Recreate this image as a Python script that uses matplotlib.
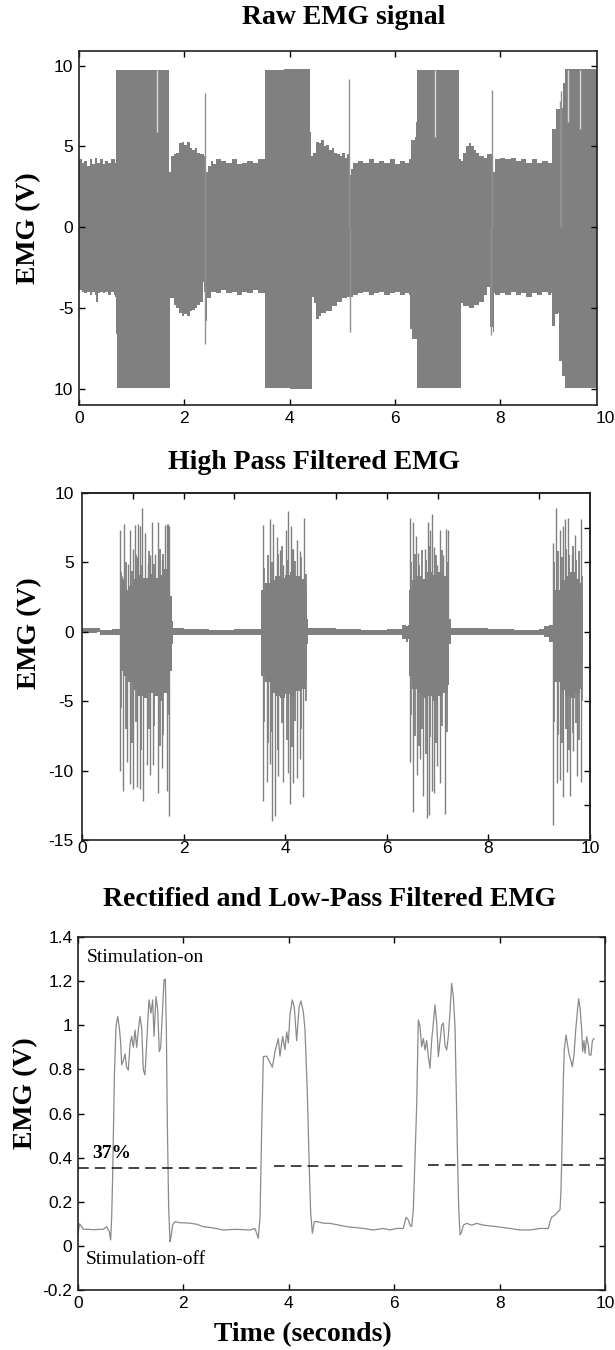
import numpy as np
import matplotlib
matplotlib.use('Agg')
import matplotlib.pyplot as plt

plt.rcParams['font.family'] = ['Liberation Sans', 'DejaVu Sans']
plt.rcParams['axes.unicode_minus'] = False

# ---- Raw EMG: envelope of the signal, (time, volts) ----
raw_upper = [(0.0, 4.2), (0.05, 4.0), (0.1, 4.1), (0.15, 3.8), (0.2, 4.2), (0.25, 3.9), (0.3, 4.3),
             (0.35, 4.0), (0.4, 4.2), (0.45, 3.9), (0.5, 4.1), (0.55, 4.0), (0.6, 4.2), (0.68, 4.0),
             (0.69, 4.0), (0.70, 9.72), (1.0, 9.7), (1.3, 9.75), (1.70, 9.72), (1.705, 3.4), (1.73, 3.4),
             (1.75, 4.4), (1.8, 4.5), (1.85, 4.6), (1.9, 5.2), (1.95, 5.3), (2.0, 5.1), (2.05, 5.3),
             (2.1, 4.9), (2.15, 4.8), (2.2, 4.9), (2.25, 4.6), (2.3, 4.5), (2.38, 4.4), (2.40, 2.4),
             (2.42, 3.4), (2.45, 3.8), (2.5, 4.1), (2.55, 3.9), (2.6, 4.2), (2.7, 4.1), (2.8, 4.0),
             (2.9, 4.2), (3.0, 3.9), (3.1, 4.0), (3.2, 4.1), (3.3, 4.0), (3.4, 4.2), (3.52, 4.2),
             (3.53, 9.72), (3.9, 9.8), (4.38, 9.72), (4.385, 5.9), (4.40, 5.0), (4.41, 4.4), (4.45, 4.6),
             (4.5, 5.3), (4.55, 5.2), (4.6, 5.4), (4.65, 5.0), (4.7, 5.1), (4.75, 4.8), (4.8, 4.9),
             (4.85, 4.6), (4.9, 4.5), (4.95, 4.4), (5.0, 4.6), (5.05, 4.3), (5.1, 4.5), (5.13, 5.0),
             (5.15, 3.2), (5.17, 3.6), (5.2, 4.0), (5.3, 4.1), (5.4, 4.0), (5.5, 4.2), (5.6, 4.0),
             (5.7, 4.1), (5.8, 4.0), (5.9, 4.2), (6.0, 3.9), (6.1, 4.1), (6.2, 4.0), (6.27, 4.2),
             (6.3, 5.4), (6.38, 5.6), (6.40, 6.5), (6.42, 9.75), (7.20, 9.72), (7.21, 4.2), (7.25, 4.1),
             (7.3, 4.6), (7.35, 5.0), (7.4, 5.2), (7.45, 5.0), (7.5, 4.8), (7.55, 4.6), (7.6, 4.4),
             (7.7, 4.3), (7.75, 4.5), (7.84, 4.5), (7.87, 3.4), (7.9, 4.2), (8.0, 4.3), (8.1, 4.2),
             (8.2, 4.3), (8.3, 4.1), (8.4, 4.2), (8.5, 4.0), (8.6, 4.2), (8.7, 4.0), (8.8, 4.1),
             (8.9, 4.0), (8.98, 4.0), (8.99, 6.1), (9.06, 6.1), (9.07, 7.3), (9.18, 7.4), (9.2, 8.9),
             (9.23, 9.8), (9.83, 9.72), (9.835, 5.0)]
raw_lower = [(0.0, -3.9), (0.05, -4.0), (0.1, -4.1), (0.15, -4.0), (0.2, -4.2), (0.25, -4.0), (0.3, -4.2),
             (0.33, -4.6), (0.36, -4.1), (0.4, -4.0), (0.45, -4.1), (0.5, -4.0), (0.55, -4.2), (0.6, -4.0),
             (0.66, -4.2), (0.69, -4.3), (0.695, -6.6), (0.72, -6.6), (0.73, -9.95), (1.0, -9.97),
             (1.3, -9.93), (1.72, -9.95), (1.73, -4.4), (1.8, -4.8), (1.85, -5.0), (1.9, -5.3),
             (1.95, -5.5), (2.0, -5.4), (2.05, -5.5), (2.1, -5.2), (2.15, -5.1), (2.2, -5.0), (2.25, -4.8),
             (2.3, -4.6), (2.35, -4.4), (2.36, -3.4), (2.37, -4.0), (2.40, -5.9), (2.42, -5.8),
             (2.44, -4.4), (2.5, -4.0), (2.6, -4.1), (2.7, -3.9), (2.8, -4.1), (2.9, -4.0), (3.0, -4.2),
             (3.1, -4.0), (3.2, -4.1), (3.3, -3.9), (3.4, -4.1), (3.52, -4.1), (3.53, -9.95),
             (4.0, -9.98), (4.42, -9.95), (4.43, -4.3), (4.47, -4.7), (4.5, -5.7), (4.55, -5.5),
             (4.6, -5.3), (4.7, -5.2), (4.8, -4.9), (4.9, -4.6), (5.0, -4.4), (5.1, -4.3), (5.16, -4.3),
             (5.2, -4.2), (5.3, -4.1), (5.4, -4.0), (5.5, -4.2), (5.6, -4.1), (5.7, -4.0), (5.8, -4.2),
             (5.9, -4.1), (6.0, -4.0), (6.1, -4.2), (6.2, -4.1), (6.27, -4.2), (6.28, -6.3), (6.33, -6.9),
             (6.41, -6.9), (6.42, -9.96), (7.23, -9.96), (7.25, -4.7), (7.3, -4.9), (7.4, -5.0),
             (7.5, -4.8), (7.6, -4.6), (7.7, -4.2), (7.75, -3.7), (7.8, -6.2), (7.86, -6.5), (7.88, -4.1),
             (7.9, -4.2), (8.0, -4.1), (8.1, -4.2), (8.2, -4.0), (8.3, -4.2), (8.4, -4.1), (8.5, -4.3),
             (8.6, -4.1), (8.7, -4.2), (8.8, -4.0), (8.9, -4.2), (8.97, -4.1), (8.99, -6.1), (9.05, -5.4),
             (9.1, -5.3), (9.12, -8.3), (9.18, -9.2), (9.22, -9.2), (9.23, -9.96), (9.83, -9.96),
             (9.835, -5.0)]
raw_spikes = [(2.39, 8.3), (5.12, 9.15), (7.84, 8.5), (9.14, 7.8), (9.16, 8.4),
              (2.385, -7.2), (5.14, -6.5), (7.82, -6.7)]
raw_notches = [(1.48, 5.9), (6.76, 5.6), (9.29, 6.5), (9.52, 6.1)]

# ---- High pass filtered EMG: (time, upper, lower) core band plus spikes ----
hp_band = [(0.0, 0.3, -0.1), (0.3, 0.3, -0.05), (0.35, 0.15, -0.25), (0.5, 0.15, -0.25), (0.6, 0.2, -0.2),
           (0.73, 0.2, -0.2), (0.745, 2.6, -2.8), (0.8, 3.0, -3.2), (0.9, 3.3, -3.6), (1.0, 3.8, -4.2),
           (1.1, 4.1, -4.6), (1.2, 3.9, -4.8), (1.3, 4.2, -4.4), (1.4, 3.9, -4.6), (1.5, 4.1, -5.0),
           (1.6, 4.5, -4.4), (1.7, 4.3, -4.2), (1.74, 2.6, -2.8), (1.77, 0.8, -0.9), (1.8, 0.25, -0.25),
           (2.0, 0.2, -0.2), (2.5, 0.15, -0.2), (3.0, 0.2, -0.2), (3.5, 0.2, -0.2), (3.52, 3.0, -3.2),
           (3.6, 3.5, -3.6), (3.7, 3.7, -4.4), (3.8, 4.0, -4.6), (3.9, 3.9, -4.8), (4.0, 4.1, -4.5),
           (4.1, 4.3, -4.7), (4.2, 4.0, -4.3), (4.3, 3.8, -4.1), (4.4, 3.0, -3.4), (4.42, 0.9, -0.9),
           (4.45, 0.25, -0.25), (5.0, 0.2, -0.2), (5.5, 0.15, -0.2), (6.0, 0.2, -0.2), (6.25, 0.2, -0.25),
           (6.3, 0.5, -0.5), (6.38, 0.4, -0.7), (6.42, 0.5, -0.5), (6.44, 3.0, -3.2), (6.5, 3.7, -4.1),
           (6.6, 4.0, -4.4), (6.7, 3.8, -4.8), (6.8, 4.3, -4.6), (6.9, 4.1, -5.0), (7.0, 4.3, -4.6),
           (7.1, 4.0, -4.4), (7.2, 3.5, -3.8), (7.23, 0.9, -0.9), (7.26, 0.25, -0.25), (8.0, 0.2, -0.2),
           (8.5, 0.15, -0.2), (9.0, 0.2, -0.25), (9.1, 0.4, -0.4), (9.2, 0.5, -0.7), (9.27, 0.6, -0.6),
           (9.29, 3.0, -3.6), (9.4, 3.7, -4.2), (9.5, 4.0, -4.6), (9.6, 4.3, -4.8), (9.7, 3.8, -4.4),
           (9.8, 3.5, -4.1), (9.85, 2.2, -2.2), (9.87, 0.0, 0.0)]
hp_spikes_up = [(0.748, 7.3), (0.78, 4.0), (0.80, 3.8), (0.83, 7.8), (0.91, 4.9), (0.95, 7.3), (1.00, 6.0),
                (1.04, 7.7), (1.09, 5.4), (1.11, 7.8), (1.14, 7.6), (1.19, 8.9), (1.24, 7.1), (1.29, 4.9),
                (1.33, 5.5), (1.37, 7.9), (1.44, 5.6), (1.50, 7.9), (1.57, 5.2), (1.63, 7.7), (1.67, 7.8),
                (1.70, 7.8), (1.72, 7.6),
                (3.556, 7.7), (3.635, 2.9), (3.70, 8.1), (3.766, 7.8), (3.832, 6.8), (3.898, 5.9),
                (3.963, 4.8), (4.016, 7.3), (4.06, 8.7), (4.107, 7.6), (4.16, 6.0), (4.226, 6.6),
                (4.291, 5.8), (4.37, 8.2),
                (6.457, 8.2), (6.51, 7.9), (6.575, 6.9), (6.621, 5.7), (6.686, 3.5), (6.752, 6.0),
                (6.818, 7.9), (6.85, 7.3), (6.883, 8.5), (6.929, 6.1), (6.982, 4.8), (7.047, 7.3),
                (7.113, 5.5), (7.165, 7.4), (7.211, 7.3),
                (9.28, 6.4), (9.33, 8.9), (9.409, 7.3), (9.475, 7.6), (9.508, 8.1), (9.573, 8.2),
                (9.639, 5.6), (9.705, 7.0), (9.771, 3.9), (9.816, 8.1)]
hp_spikes_down = [(0.748, -10.05), (0.80, -11.5), (0.88, -9.4), (0.945, -11.0), (1.01, -11.3),
                  (1.076, -11.2), (1.142, -11.3), (1.21, -12.2), (1.27, -9.6), (1.34, -10.3), (1.40, -9.6),
                  (1.50, -11.6), (1.57, -9.8), (1.667, -11.5), (1.713, -13.3),
                  (3.556, -12.2), (3.635, -10.8), (3.70, -9.5), (3.733, -13.6), (3.80, -13.3),
                  (3.865, -10.4), (3.963, -10.8), (4.06, -10.2), (4.094, -12.4), (4.16, -10.9),
                  (4.226, -10.5), (4.291, -9.2), (4.357, -11.9),
                  (6.457, -9.4), (6.52, -13.0), (6.588, -10.3), (6.654, -9.2), (6.719, -11.8),
                  (6.785, -13.4), (6.837, -13.2), (6.883, -11.5), (6.929, -11.6), (6.982, -9.7),
                  (7.047, -10.9), (7.146, -13.1),
                  (9.28, -13.9), (9.344, -10.9), (9.409, -10.7), (9.475, -11.9), (9.541, -10.1),
                  (9.606, -11.8), (9.672, -8.6), (9.738, -10.4), (9.816, -10.8)]
# shorter bursts inside the dense part: (time, top, bottom)
hp_spikes_mid = [(0.76, 4.3, -5.5), (0.86, 5.0, -7.0), (0.98, 4.4, -8.0), (1.06, 5.5, -6.5), (1.17, 4.8, -8.5),
                 (1.31, 5.8, -7.0), (1.42, 4.9, -6.8), (1.53, 6.0, -8.2), (1.60, 5.6, -7.4), (1.69, 5.3, -6.0),
                 (3.58, 4.6, -6.5), (3.66, 5.5, -8.0), (3.74, 5.0, -7.2), (3.86, 5.6, -8.5), (3.93, 6.2, -6.6),
                 (4.04, 5.2, -7.8), (4.13, 6.0, -8.3), (4.20, 5.1, -6.4), (4.32, 5.4, -7.0), (4.40, 4.2, -5.0),
                 (6.47, 5.0, -6.0), (6.55, 5.6, -7.5), (6.64, 4.8, -8.2), (6.70, 5.9, -7.0), (6.77, 5.2, -8.8),
                 (6.86, 6.2, -7.6), (6.96, 5.5, -8.0), (7.08, 5.9, -6.8), (7.18, 5.0, -7.2),
                 (9.30, 5.0, -6.5), (9.37, 5.8, -7.4), (9.44, 5.4, -8.0), (9.53, 6.0, -7.0), (9.59, 5.5, -8.5),
                 (9.66, 6.2, -7.3), (9.72, 5.2, -6.6), (9.79, 5.8, -7.8), (9.84, 4.0, -5.0)]

# ---- Rectified and low-pass filtered EMG ----
lp_time = [0.00, 0.01, 0.03, 0.06, 0.10, 0.2, 0.3, 0.4, 0.48, 0.544, 0.594, 0.62, 0.639, 0.658, 0.69, 0.721,
           0.753, 0.784, 0.81, 0.829, 0.86, 0.892, 0.923, 0.955, 0.987, 1.018, 1.05, 1.082, 1.113, 1.145,
           1.176, 1.208, 1.24, 1.271, 1.303, 1.347, 1.385, 1.417, 1.442, 1.48, 1.512, 1.543, 1.569, 1.60,
           1.632, 1.657, 1.676, 1.695, 1.72, 1.746, 1.765, 1.796, 1.84, 1.935, 2.125, 2.25, 2.378, 2.55,
           2.758, 3.0, 3.264, 3.358, 3.39, 3.42, 3.454, 3.485, 3.517, 3.58, 3.624, 3.688, 3.738, 3.80,
           3.833, 3.883, 3.928, 3.96, 3.991, 4.023, 4.067, 4.105, 4.149, 4.194, 4.231, 4.276, 4.307,
           4.352, 4.39, 4.415, 4.447, 4.485, 4.53, 4.655, 4.782, 5.1, 5.414, 5.604, 5.794, 5.92, 6.047,
           6.173, 6.224, 6.268, 6.30, 6.331, 6.363, 6.395, 6.426, 6.458, 6.49, 6.521, 6.553, 6.585,
           6.616, 6.648, 6.679, 6.711, 6.743, 6.774, 6.806, 6.838, 6.869, 6.901, 6.932, 6.964, 6.996,
           7.027, 7.059, 7.09, 7.122, 7.154, 7.173, 7.198, 7.223, 7.249, 7.28, 7.312, 7.375, 7.47,
           7.565, 7.692, 7.944, 8.197, 8.387, 8.577, 8.767, 8.925, 8.957, 8.988, 9.051, 9.114, 9.146,
           9.165, 9.184, 9.209, 9.228, 9.26, 9.285, 9.317, 9.349, 9.38, 9.412, 9.444, 9.475, 9.50,
           9.526, 9.557, 9.576, 9.601, 9.62, 9.652, 9.684, 9.703, 9.735, 9.76, 9.792]
lp_emg = [0.05, 0.07, 0.10, 0.09, 0.075, 0.075, 0.073, 0.075, 0.075, 0.087, 0.064, 0.027, 0.13, 0.32, 0.767,
          0.994, 1.04, 0.99, 0.92, 0.82, 0.84, 0.87, 0.81, 0.797, 0.912, 0.95, 0.90, 0.978, 0.90, 0.978,
          1.04, 0.99, 0.797, 0.775, 0.92, 1.115, 1.055, 1.115, 0.95, 1.13, 1.07, 0.88, 0.90, 1.055,
          1.205, 1.21, 0.99, 0.556, 0.178, 0.019, 0.04, 0.095, 0.11, 0.105, 0.103, 0.098, 0.087, 0.082,
          0.072, 0.075, 0.072, 0.079, 0.057, 0.034, 0.13, 0.525, 0.858, 0.86, 0.84, 0.81, 0.88, 0.94,
          0.86, 0.95, 0.89, 0.97, 0.92, 1.05, 1.115, 1.08, 0.93, 1.08, 1.11, 1.06, 0.98,
          0.69, 0.344, 0.15, 0.057, 0.11, 0.11, 0.103, 0.102, 0.087, 0.079, 0.072, 0.079, 0.072, 0.079,
          0.079, 0.13, 0.117, 0.094, 0.087, 0.164, 0.405, 0.632, 1.024, 0.994, 0.903, 0.94, 0.888,
          0.93, 0.858, 0.805, 0.933, 1.01, 1.092, 1.01, 0.858, 0.93, 1.0, 1.01, 0.91, 0.888,
          0.95, 1.06, 1.19, 1.13, 0.994, 0.752, 0.45, 0.178, 0.05, 0.064, 0.094, 0.102, 0.094,
          0.102, 0.094, 0.087, 0.079, 0.072, 0.072, 0.079, 0.079, 0.11, 0.13, 0.14, 0.156, 0.164,
          0.254, 0.45, 0.752, 0.888, 0.956, 0.918, 0.87, 0.843, 0.812, 0.865, 0.978, 1.06, 1.12,
          1.08, 0.98, 0.88, 0.93, 0.873, 0.948, 0.91, 0.865, 0.865, 0.93, 0.94]
# 37% threshold line, drawn in pieces: (start, end, level)
lp_threshold = [(0.0, 3.40, 0.355), (3.72, 6.22, 0.36), (6.65, 10.0, 0.366)]

sig_color = '#808080'
serif_bold = dict(family='Liberation Serif', weight='bold')
tick_size = 12.5

fig = plt.figure(figsize=(6.15, 13.5), dpi=100)


def style_axes(ax, xpad, ypad):
    for s in ax.spines.values():
        s.set_linewidth(1.2)
        s.set_color('#222222')
    ax.tick_params(direction='in', length=4, width=1, labelsize=tick_size)
    ax.tick_params(axis='x', pad=xpad)
    ax.tick_params(axis='y', pad=ypad)


# ---------------- panel 1 ----------------
ax1 = fig.add_axes([79 / 615, 1 - 405 / 1350, 518 / 615, 354 / 1350])
up = np.array(raw_upper)
lo = np.array(raw_lower)
ax1.fill_between(up[:, 0], 0, up[:, 1], step='post', color=sig_color, lw=0)
ax1.fill_between(lo[:, 0], lo[:, 1], 0, step='post', color=sig_color, lw=0)
spk = np.array(raw_spikes)
ax1.vlines(spk[:, 0], 0, spk[:, 1], color='#909090', lw=1)
nt = np.array(raw_notches)
ax1.vlines(nt[:, 0], nt[:, 1], 9.72, color='#d8d8d8', lw=1)
ax1.set_xlim(0, 9.84)
ax1.set_ylim(-11, 10.9)
ax1.set_xticks([0, 2, 4, 6, 8])
ax1.set_yticks([-10, -5, 0, 5, 10])
ax1.set_yticklabels(['10', '-5', '0', '5', '10'])
style_axes(ax1, 4, 4)
ax1.tick_params(top=True, right=True)
ax1.text(10, -0.016, '10', transform=ax1.get_xaxis_transform(), ha='center', va='top', fontsize=tick_size)
ax1.set_ylabel('EMG (V)', fontsize=20, va='center', **serif_bold)
ax1.yaxis.set_label_coords(-0.097, 0.5)
fig.text(344 / 615, 1 - 18 / 1350, 'Raw EMG signal', ha='center', va='center', fontsize=20, **serif_bold)

# ---------------- panel 2 ----------------
ax2 = fig.add_axes([82 / 615, 1 - 840 / 1350, 508 / 615, 347 / 1350])
band = np.array(hp_band)
ax2.fill_between(band[:, 0], band[:, 2], band[:, 1], step='post', color=sig_color, lw=0)
su = np.array(hp_spikes_up)
sd = np.array(hp_spikes_down)
sm = np.array(hp_spikes_mid)
ax2.vlines(su[:, 0], 0, su[:, 1], color=sig_color, lw=1)
ax2.vlines(sd[:, 0], 0, sd[:, 1], color=sig_color, lw=1)
ax2.vlines(sm[:, 0], sm[:, 2], sm[:, 1], color=sig_color, lw=1.3)
ax2.set_xlim(0, 10)
ax2.set_ylim(-15, 10)
ax2.set_xticks([0, 2, 4, 6, 8, 10])
ax2.set_yticks([-15, -10, -5, 0, 5, 10])
style_axes(ax2, 1, 6)
sec_x = ax2.secondary_xaxis('top')
sec_x.set_xticks([1, 2, 3, 5, 6, 7, 9])
sec_x.tick_params(direction='in', length=4, width=1, labeltop=False)
sec_y = ax2.secondary_yaxis('right')
sec_y.set_yticks([7.5, 5, 0, -2.5, -5, -10, -12.5])
sec_y.tick_params(direction='in', length=4, width=1, labelright=False)
for s in list(sec_x.spines.values()) + list(sec_y.spines.values()):
    s.set_linewidth(1.2)
    s.set_color('#222222')
ax2.set_ylabel('EMG (V)', fontsize=20, va='center', **serif_bold)
ax2.yaxis.set_label_coords(-0.104, 0.597)
fig.text(314 / 615, 1 - 463 / 1350, 'High Pass Filtered EMG', ha='center', va='center', fontsize=20,
         **serif_bold)

# ---------------- panel 3 ----------------
ax3 = fig.add_axes([78 / 615, 1 - 1290 / 1350, 527 / 615, 353 / 1350])
ax3.plot(lp_time, lp_emg, color='#8a8a8a', lw=0.9)
th = np.array(lp_threshold)
ax3.hlines(th[:, 2], th[:, 0], th[:, 1], colors='#111111', lw=1.1, linestyles=(0, (7, 4)))
ax3.set_xlim(0, 10)
ax3.set_ylim(-0.2, 1.4)
ax3.set_xticks([0, 2, 4, 6, 8, 10])
ax3.set_yticks([-0.2, 0, 0.2, 0.4, 0.6, 0.8, 1.0, 1.2, 1.4])
ax3.set_yticklabels(['-0.2', '0', '0.2', '0.4', '0.6', '0.8', '1', '1.2', '1.4'])
style_axes(ax3, 4, 4)
ax3.tick_params(top=True, right=True)
ax3.text(0.17, 1.305, 'Stimulation-on', fontsize=14, family='Liberation Serif', va='center')
ax3.text(0.15, -0.064, 'Stimulation-off', fontsize=14, family='Liberation Serif', va='center')
ax3.text(0.26, 0.42, '37%', fontsize=14, va='center', **serif_bold)
ax3.set_ylabel('EMG (V)', fontsize=20, va='center', **serif_bold)
ax3.yaxis.set_label_coords(-0.1, 0.558)
fig.text(330 / 615, 1 - 900 / 1350, 'Rectified and Low-Pass Filtered EMG', ha='center', va='center',
         fontsize=20, **serif_bold)
fig.text(303 / 615, 1 - 1335 / 1350, 'Time (seconds)', ha='center', va='center', fontsize=20,
         **serif_bold)

fig.savefig('out.png', dpi=100)
